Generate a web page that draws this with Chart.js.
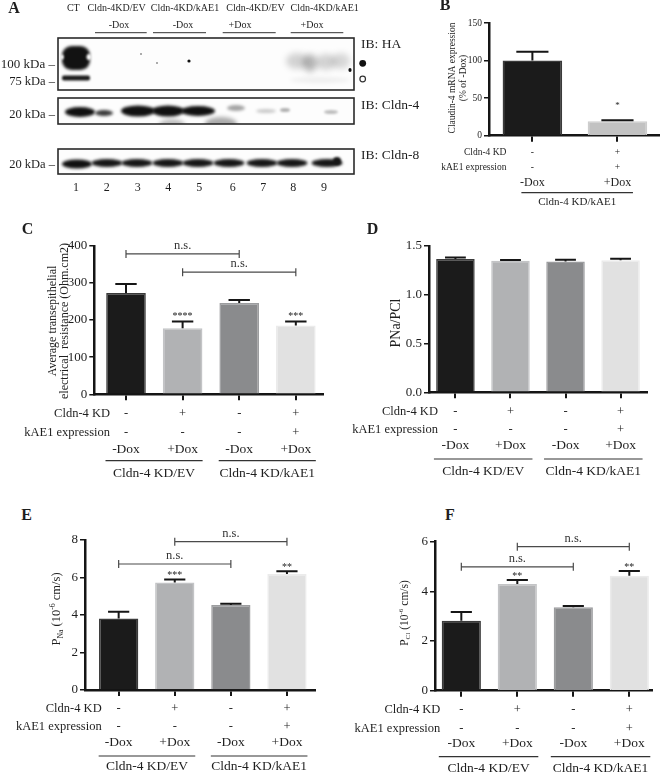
<!DOCTYPE html>
<html>
<head>
<meta charset="utf-8">
<title>Cldn-4 KD / kAE1</title>
<script src="https://cdn.jsdelivr.net/npm/chart.js@4.4.1/dist/chart.umd.min.js"></script>
<style>
  html, body { margin: 0; padding: 0; background: #fff; }
  #fig { position: relative; width: 660px; height: 774px; overflow: hidden; background: #fff;
         font-family: "Liberation Serif", "Times New Roman", serif; color: #1e1e1e; }
  #fig canvas { position: absolute; }
  .t { position: absolute; white-space: nowrap; line-height: 1; }
</style>
</head>
<body>
<div id="fig">
  <canvas id="blot" width="440" height="200" style="left:0;top:0;width:440px;height:200px"></canvas>
  <canvas id="chartB"></canvas>
  <canvas id="chartC"></canvas>
  <canvas id="chartD"></canvas>
  <canvas id="chartE"></canvas>
  <canvas id="chartF"></canvas>
</div>
<script>
// ---- data ----
// table rows under the bars
const cldn4KD = ['-', '+', '-', '+'];
const kAE1 = ['-', '-', '-', '+'];
const doxLabels = ['-Dox', '+Dox', '-Dox', '+Dox'];
const groupLabels = ['Cldn-4 KD/EV', 'Cldn-4 KD/kAE1'];

// B: claudin-4 mRNA (% of -Dox)
const mrnaKD = ['-', '+'];
const mrnaKAE1 = ['-', '+'];
const mrnaDox = ['-Dox', '+Dox'];
const mrnaGroup = ['Cldn-4 KD/kAE1'];
const mrnaMean = [100, 19.3];
const mrnaSem = [11.6, 1.1];
const mrnaStars = ['', '*'];

// C: TEER (Ohm.cm2)
const teerMean = [273, 178, 246, 185];
const teerSem = [24, 18, 8, 11];
const teerStars = ['', '****', '', '***'];
const teerNs = [[0, 2, 378], [1, 3, 329]];

// D: PNa/PCl
const ratioMean = [1.365, 1.347, 1.340, 1.353];
const ratioSem = [0.015, 0.008, 0.018, 0.015];

// E: PNa (10^-6 cm/s)
const pnaMean = [3.82, 5.74, 4.53, 6.19];
const pnaSem = [0.36, 0.16, 0.07, 0.14];
const pnaStars = ['', '***', '', '**'];
const pnaNs = [[0, 2, 6.72], [1, 3, 7.91]];

// F: PCl (10^-6 cm/s)
const pclMean = [2.82, 4.30, 3.36, 4.63];
const pclSem = [0.35, 0.16, 0.05, 0.19];
const pclStars = ['', '**', '', '**'];
const pclNs = [[0, 2, 4.99], [1, 3, 5.8]];

const FONT = '"Liberation Serif", "Times New Roman", serif';
const barFill = ['#1b1b1b', '#b1b2b4', '#8a8b8d', '#e1e1e1'];
const barEdge = ['#3a3a3a', '#c3c4c6', '#9c9d9f', '#ebebeb'];

// panel layout (page pixels)
const panels = {
  chartB: { box: [440, 14, 220, 200], axis: [489, 660, 23, 135.7], xRange: [-0.51, 1.5], yMax: 150, yStep: 50, dec: 0, tickSize: 9.5,
    mean: mrnaMean, sem: mrnaSem, fill: ['#1b1b1b', '#c2c2c2'], edge: ['#3a3a3a', '#cdcdcd'],
    stars: mrnaStars, starGap: 18, starSize: 9, ns: [],
    rows: [mrnaKD, mrnaKAE1, mrnaDox], rowNames: ['Cldn-4 KD', 'kAE1 expression'], groups: mrnaGroup, spans: [[0, 1]],
    rowDy: [16.6, 31.5, 47, 57, 66], labelDx: -26, spanPad: [-11, 15.5], fonts: [9.5, 12, 11],
    title: { lines: [[{ t: 'Claudin-4 mRNA expression' }], [{ t: '(% of -Dox)' }]], xs: [452.7, 463.5], cy: 78, size: 9.5 } },
  chartC: { box: [0, 236, 330, 248], axis: [94.3, 323, 245, 394.3], xRange: [-0.56, 3.48], yMax: 400, yStep: 100, dec: 0, tickSize: 13,
    mean: teerMean, sem: teerSem, fill: barFill, edge: barEdge, stars: teerStars, starGap: 9, starSize: 10, ns: teerNs,
    rows: [cldn4KD, kAE1, doxLabels], rowNames: ['Cldn-4 KD', 'kAE1 expression'], groups: groupLabels, spans: [[0, 1], [2, 3]],
    rowDy: [19, 38.4, 54.7, 66.4, 78.7], labelDx: -16, spanPad: [-20.5, 20], fonts: [12.5, 13.5, 13.5],
    title: { lines: [[{ t: 'Average transepithelial' }], [{ t: 'electrical  resistance (Ohm.cm2)' }]], xs: [53, 64.5], cy: 321, size: 12 } },
  chartD: { box: [330, 236, 330, 248], axis: [429, 647, 245.7, 392.3], xRange: [-0.48, 3.48], yMax: 1.5, yStep: 0.5, dec: 1, tickSize: 13,
    mean: ratioMean, sem: ratioSem, fill: barFill, edge: barEdge, stars: null, starGap: 8, starSize: 10, ns: [],
    rows: [cldn4KD, kAE1, doxLabels], rowNames: ['Cldn-4 KD', 'kAE1 expression'], groups: groupLabels, spans: [[0, 1], [2, 3]],
    rowDy: [19.4, 37.7, 53.4, 66.7, 79.4], labelDx: -17.5, spanPad: [-21.5, 22], fonts: [12.5, 13.5, 13.5],
    title: { lines: [[{ t: 'PNa/PCl' }]], xs: [396.7], cy: 323, size: 14 } },
  chartE: { box: [0, 530, 330, 244], axis: [85, 315, 540, 690], xRange: [-0.6, 3.5], yMax: 8, yStep: 2, dec: 0, tickSize: 13,
    mean: pnaMean, sem: pnaSem, fill: barFill, edge: barEdge, stars: pnaStars, starGap: 7.5, starSize: 10, ns: pnaNs,
    rows: [cldn4KD, kAE1, doxLabels], rowNames: ['Cldn-4 KD', 'kAE1 expression'], groups: groupLabels, spans: [[0, 1], [2, 3]],
    rowDy: [18.3, 36.7, 52.3, 66, 76.7], labelDx: -17, spanPad: [-20, 20.5], fonts: [12.5, 13.5, 13.5],
    title: { lines: [[{ t: 'P' }, { t: 'Na', sub: true }, { t: ' (10' }, { t: '-6', sup: true }, { t: ' cm/s)' }]], xs: [57], cy: 609, size: 12.5 } },
  chartF: { box: [330, 530, 330, 244], axis: [435, 651.7, 541.7, 690.7], xRange: [-0.47, 3.4], yMax: 6, yStep: 2, dec: 0, tickSize: 13,
    mean: pclMean, sem: pclSem, fill: barFill, edge: barEdge, stars: pclStars, starGap: 7, starSize: 10, ns: pclNs,
    rows: [cldn4KD, kAE1, doxLabels], rowNames: ['Cldn-4 KD', 'kAE1 expression'], groups: groupLabels, spans: [[0, 1], [2, 3]],
    rowDy: [18.6, 37.6, 52.6, 66, 77.6], labelDx: -21, spanPad: [-22.5, 21], fonts: [12.5, 13.5, 13.5],
    title: { lines: [[{ t: 'P' }, { t: 'Cl', sub: true }, { t: ' (10' }, { t: '-6', sup: true }, { t: ' cm/s)' }]], xs: [404.5], cy: 613, size: 11.5 } }
};

// error bars, stars, n.s. brackets, condition table, axis title
const annot = {
  id: 'annot',
  afterDraw(chart) {
    const p = panels[chart.canvas.id];
    const ctx = chart.ctx, xs = chart.scales.x, ys = chart.scales.y;
    const meta = chart.getDatasetMeta(0);
    const bottom = chart.chartArea.bottom;
    const px = i => xs.getPixelForValue(i);
    ctx.save();

    // upper error bars (GraphPad style)
    ctx.strokeStyle = '#161616';
    ctx.lineWidth = 2;
    p.mean.forEach((m, i) => {
      const x = px(i);
      const y0 = ys.getPixelForValue(m), y1 = ys.getPixelForValue(m + p.sem[i]);
      const half = meta.data[i].width * 0.27;
      ctx.beginPath();
      ctx.moveTo(x, y0); ctx.lineTo(x, y1);
      ctx.moveTo(x - half, y1); ctx.lineTo(x + half, y1);
      ctx.stroke();
      if (p.stars && p.stars[i]) {
        ctx.fillStyle = '#222';
        ctx.font = p.starSize + 'px ' + FONT;
        ctx.textAlign = 'center';
        ctx.textBaseline = 'alphabetic';
        ctx.fillText(p.stars[i], x, y1 - p.starGap + p.starSize * 0.6);
      }
    });

    // n.s. brackets
    ctx.strokeStyle = '#4a4a4a';
    ctx.lineWidth = 1.2;
    p.ns.forEach(([a, b, v]) => {
      const xa = px(a), xb = px(b), y = ys.getPixelForValue(v);
      ctx.beginPath();
      ctx.moveTo(xa, y); ctx.lineTo(xb, y);
      ctx.moveTo(xa, y - 4); ctx.lineTo(xa, y + 4);
      ctx.moveTo(xb, y - 4); ctx.lineTo(xb, y + 4);
      ctx.stroke();
      ctx.fillStyle = '#333';
      ctx.font = '12.5px ' + FONT;
      ctx.textAlign = 'center';
      ctx.textBaseline = 'alphabetic';
      ctx.fillText('n.s.', (xa + xb) / 2, y - 5);
    });

    // condition table
    const [f1, f2, f3] = p.fonts;
    ctx.fillStyle = '#1e1e1e';
    ctx.textBaseline = 'middle';
    ctx.font = f1 + 'px ' + FONT;
    ctx.textAlign = 'right';
    p.rowNames.forEach((n, r) => ctx.fillText(n, px(0) + p.labelDx, bottom + p.rowDy[r]));
    ctx.textAlign = 'center';
    p.rows[0].forEach((s, i) => ctx.fillText(s, px(i), bottom + p.rowDy[0]));
    p.rows[1].forEach((s, i) => ctx.fillText(s, px(i), bottom + p.rowDy[1]));
    ctx.font = f2 + 'px ' + FONT;
    p.rows[2].forEach((s, i) => ctx.fillText(s, px(i), bottom + p.rowDy[2]));
    ctx.strokeStyle = '#333';
    ctx.lineWidth = 1.2;
    ctx.font = f3 + 'px ' + FONT;
    p.spans.forEach(([a, b], g) => {
      const xa = px(a) + p.spanPad[0], xb = px(b) + p.spanPad[1];
      const y = bottom + p.rowDy[3];
      ctx.beginPath(); ctx.moveTo(xa, y); ctx.lineTo(xb, y); ctx.stroke();
      ctx.fillText(p.groups[g], (xa + xb) / 2, bottom + p.rowDy[4]);
    });

    // rotated y title (with sub/superscripts)
    const t = p.title;
    t.lines.forEach((segs, k) => {
      ctx.save();
      ctx.translate(t.xs[k] - p.box[0], t.cy - p.box[1]);
      ctx.rotate(-Math.PI / 2);
      const sizes = segs.map(s => (s.sub || s.sup) ? t.size * 0.62 : t.size);
      const widths = segs.map((s, j) => { ctx.font = sizes[j] + 'px ' + FONT; return ctx.measureText(s.t).width; });
      let x = -widths.reduce((a, b) => a + b, 0) / 2;
      ctx.textAlign = 'left';
      ctx.textBaseline = 'middle';
      ctx.fillStyle = '#1e1e1e';
      segs.forEach((s, j) => {
        ctx.font = sizes[j] + 'px ' + FONT;
        const dy = s.sub ? t.size * 0.32 : s.sup ? -t.size * 0.3 : 0;
        ctx.fillText(s.t, x, dy);
        x += widths[j];
      });
      ctx.restore();
    });
    ctx.restore();
  }
};

function makePanel(id) {
  const p = panels[id];
  const [bl, bt, bw, bh] = p.box;
  const [ax0, ax1, ayTop, ayBot] = p.axis;
  const cv = document.getElementById(id);
  cv.width = bw; cv.height = bh;
  cv.style.left = bl + 'px'; cv.style.top = bt + 'px';
  cv.style.width = bw + 'px'; cv.style.height = bh + 'px';
  const xAxisH = 8;
  return new Chart(cv, {
    type: 'bar',
    data: {
      datasets: [{
        data: p.mean.map((v, i) => ({ x: i, y: v })),
        backgroundColor: p.fill,
        borderColor: p.edge,
        borderWidth: 1.5,
        borderSkipped: 'bottom',
        barPercentage: 0.7,
        categoryPercentage: 1
      }]
    },
    options: {
      responsive: false,
      animation: false,
      devicePixelRatio: 1,
      layout: { padding: { left: 0, right: bl + bw - ax1, top: ayTop - bt, bottom: bt + bh - ayBot - xAxisH } },
      plugins: { legend: { display: false }, tooltip: { enabled: false } },
      scales: {
        x: {
          type: 'linear', min: p.xRange[0], max: p.xRange[1], offset: false,
          afterBuildTicks: s => { s.ticks = p.mean.map((_, i) => ({ value: i })); },
          afterFit: s => { s.height = xAxisH; },
          ticks: { display: false },
          grid: { drawOnChartArea: false, drawTicks: true, tickLength: 6, lineWidth: 2, color: '#151515', offset: false },
          border: { display: true, width: 2.5, color: '#151515' }
        },
        y: {
          min: 0, max: p.yMax,
          afterFit: s => { s.width = ax0 - bl; },
          ticks: { stepSize: p.yStep, padding: 2, color: '#1e1e1e', font: { family: FONT, size: p.tickSize },
                   callback: v => Number(v).toFixed(p.dec) },
          grid: { drawOnChartArea: false, drawTicks: true, tickLength: 5, lineWidth: 1.5, color: '#151515' },
          border: { display: true, width: 2.5, color: '#151515' }
        }
      }
    },
    plugins: [annot]
  });
}

// ---- western blot (panel A), drawn as a picture ----
function drawBlot() {
  const ctx = document.getElementById('blot').getContext('2d');
  const boxes = [[58, 38, 296, 52], [58, 98, 296, 26], [58, 149, 296, 25]];
  function blob(x, y, rx, ry, color, blur) {
    ctx.save();
    ctx.filter = 'blur(' + blur + 'px)';
    ctx.fillStyle = color;
    ctx.beginPath();
    ctx.ellipse(x, y, rx, ry, 0, 0, Math.PI * 2);
    ctx.fill();
    ctx.restore();
  }
  function slab(x, y, w, h, color, blur) {
    ctx.save();
    ctx.filter = 'blur(' + blur + 'px)';
    ctx.fillStyle = color;
    ctx.beginPath();
    ctx.roundRect(x, y, w, h, Math.min(w, h) / 2.5);
    ctx.fill();
    ctx.restore();
  }
  function inBox(b, fn) {
    ctx.save();
    ctx.beginPath(); ctx.rect(b[0], b[1], b[2], b[3]); ctx.clip();
    ctx.fillStyle = '#fdfdfd'; ctx.fillRect(b[0], b[1], b[2], b[3]);
    fn();
    ctx.restore();
  }
  // IB: HA
  inBox(boxes[0], () => {
    slab(62, 46, 28, 24, '#121212', 1.6);
    blob(89, 57, 2.5, 3, '#fdfdfd', 1.2);
    blob(62, 57, 1.8, 2.5, '#fdfdfd', 1.2);
    slab(62, 75.5, 28, 5, '#1a1a1a', 1);
    blob(297, 61, 11, 8, 'rgba(0,0,0,0.17)', 3);
    blob(310, 63, 7, 9, 'rgba(0,0,0,0.28)', 3);
    blob(326, 62, 10, 8, 'rgba(0,0,0,0.17)', 3);
    blob(341, 61, 9, 8, 'rgba(0,0,0,0.15)', 3);
    blob(320, 80, 30, 3, 'rgba(0,0,0,0.06)', 2);
    blob(141, 54, 0.8, 0.8, '#444', 0.2);
    blob(157, 63, 0.8, 0.8, '#444', 0.2);
    blob(189, 61, 1.6, 1.6, '#111', 0.3);
    blob(350, 70, 1.6, 2, '#111', 0.3);
  });
  // IB: Cldn-4
  inBox(boxes[1], () => {
    blob(172, 125, 13, 6, 'rgba(0,0,0,0.25)', 2);
    blob(221, 124, 16, 7, 'rgba(0,0,0,0.32)', 2);
    blob(80, 112, 15, 5, '#111', 1.5);
    blob(104, 113, 9, 3, '#3a3a3a', 1.5);
    blob(138, 111, 17, 5.5, '#111', 1.5);
    blob(168, 111, 16, 5.5, '#111', 1.5);
    blob(198, 111, 17, 5, '#111', 1.5);
    blob(236, 108, 9, 3, 'rgba(0,0,0,0.35)', 1.5);
    blob(266, 111, 10, 2, 'rgba(0,0,0,0.2)', 1.5);
    blob(285, 110, 5, 2, 'rgba(0,0,0,0.3)', 1.2);
    blob(331, 112, 7, 2, 'rgba(0,0,0,0.25)', 1.2);
  });
  // IB: Cldn-8
  inBox(boxes[2], () => {
    blob(77, 164, 15, 4.5, '#111', 1.5);
    [107, 137, 168, 198, 229, 262, 292, 327].forEach(x => blob(x, 163, 15.5, 4, '#161616', 1.5));
    blob(337, 161, 4, 4, '#161616', 1.2);
  });
  ctx.strokeStyle = '#2a2a2a';
  ctx.lineWidth = 1.6;
  boxes.forEach(b => ctx.strokeRect(b[0], b[1], b[2], b[3]));
  // header underlines
  ctx.strokeStyle = '#333';
  ctx.lineWidth = 1;
  [[95, 146.7], [153, 206], [222.7, 275.7], [290.7, 343.3]].forEach(([a, b]) => {
    ctx.beginPath(); ctx.moveTo(a, 32.7); ctx.lineTo(b, 32.7); ctx.stroke();
  });
  // band markers
  ctx.fillStyle = '#111';
  ctx.beginPath(); ctx.arc(362.7, 63.3, 3.4, 0, Math.PI * 2); ctx.fill();
  ctx.lineWidth = 1.2;
  ctx.beginPath(); ctx.arc(362.7, 79, 2.8, 0, Math.PI * 2); ctx.stroke();
}

function txt(s, x, y, size, align, bold) {
  const d = document.createElement('div');
  d.className = 't';
  d.textContent = s;
  d.style.left = x + 'px';
  d.style.top = y + 'px';
  d.style.fontSize = size + 'px';
  if (bold) d.style.fontWeight = 'bold';
  const tx = align === 'right' ? '-100%' : align === 'left' ? '0' : '-50%';
  d.style.transform = 'translate(' + tx + ',-50%)';
  document.getElementById('fig').appendChild(d);
}

drawBlot();
['chartB', 'chartC', 'chartD', 'chartE', 'chartF'].forEach(makePanel);

// panel letters
txt('A', 14, 8, 16, 'center', true);
txt('B', 445, 5, 16, 'center', true);
txt('C', 27.5, 229, 16, 'center', true);
txt('D', 372.5, 229, 16, 'center', true);
txt('E', 26.5, 515, 16, 'center', true);
txt('F', 450, 515, 16, 'center', true);

// blot labels
[['CT', 73.3], ['Cldn-4KD/EV', 116.7], ['Cldn-4KD/kAE1', 185], ['Cldn-4KD/EV', 255.5], ['Cldn-4KD/kAE1', 324.7]]
  .forEach(([s, x]) => txt(s, x, 7.5, 10, 'center'));
[['-Dox', 119], ['-Dox', 183], ['+Dox', 240], ['+Dox', 312]].forEach(([s, x]) => txt(s, x, 25, 10, 'center'));
txt('100 kDa \u2013', 55, 62.7, 13, 'right');
txt('75 kDa \u2013', 55, 81, 12.5, 'right');
txt('20 kDa \u2013', 55, 114.3, 12.5, 'right');
txt('20 kDa \u2013', 55, 164, 12.5, 'right');
txt('IB: HA', 361, 44.3, 13.5, 'left');
txt('IB: Cldn-4', 361, 105, 13.5, 'left');
txt('IB: Cldn-8', 361, 155.3, 13.5, 'left');
[76, 106.7, 137.7, 168.3, 199.3, 232.7, 263.3, 293.3, 324].forEach((x, i) => txt(String(i + 1), x, 187.3, 12, 'center'));
</script>
</body>
</html>
